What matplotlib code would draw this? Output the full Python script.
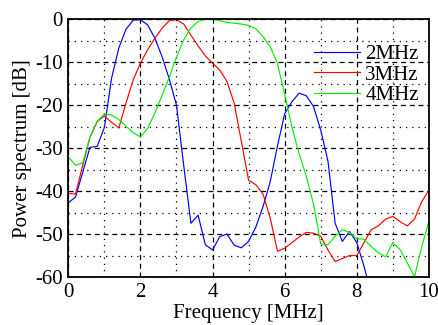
import numpy as np
import matplotlib
matplotlib.use("Agg")
import matplotlib.pyplot as plt
from matplotlib.ticker import MultipleLocator

plt.rcParams['font.family'] = ['Liberation Serif', 'DejaVu Serif']
plt.rcParams['axes.unicode_minus'] = False

freq = [0.0, 0.2, 0.4, 0.6, 0.8, 1.0, 1.2, 1.4, 1.6, 1.8,
        2.0, 2.2, 2.4, 2.6, 2.8, 3.0, 3.2, 3.4, 3.6, 3.8,
        4.0, 4.2, 4.4, 4.6, 4.8, 5.0, 5.2, 5.4, 5.6, 5.8,
        6.0, 6.2, 6.4, 6.6, 6.8, 7.0, 7.2, 7.4, 7.6, 7.8,
        8.0, 8.2, 8.4, 8.6, 8.8, 9.0, 9.2, 9.4, 9.6, 9.8, 10.0]

nan = np.nan
p2mhz = [-42.7, -41.4, -35.6, -29.8, -29.6, -25.2, -13.7, -6.7, -2.3, -0.2,
         -0.1, -1.3, -4.4, -8.7, -13.9, -20.0, -34.0, -47.5, -45.6, -52.5,
         -53.7, -50.6, -50.0, -52.6, -53.2, -51.7, -48.4, -43.6, -37.8, -29.5,
         -22.0, -19.2, -17.2, -17.8, -20.3, -25.8, -33.0, -47.5, -51.7, -49.4,
         -52.0, -57.5, -64.0, nan, nan, nan, nan, nan, nan, nan, nan]

p3mhz = [-40.5, -40.7, -34.0, -27.5, -23.8, -22.5, -24.0, -25.3, -19.5, -14.1,
         -10.2, -7.1, -4.4, -2.1, -0.3, -0.1, -1.1, -3.7, -6.2, -8.5,
         -10.2, -11.8, -14.5, -19.5, -28.5, -37.5, -38.5, -40.7, -46.3, -54.0,
         -53.3, -52.0, -50.7, -49.6, -49.8, -50.5, -53.7, -56.4, -55.7, -55.0,
         -55.0, -52.0, -49.0, -48.1, -46.5, -45.9, -47.1, -48.1, -46.5, -42.5, -39.8]

p4mhz = [-32.0, -34.0, -33.4, -27.5, -23.8, -22.0, -22.3, -23.3, -24.9, -26.4,
         -27.4, -25.4, -21.9, -17.7, -13.5, -8.8, -4.8, -2.0, -0.5, 0.0,
         0.0, -0.3, -0.7, -0.9, -1.1, -1.4, -2.2, -4.0, -6.4, -10.3,
         -17.5, -25.0, -31.3, -36.5, -43.0, -52.3, -52.5, -50.5, -49.0, -49.6,
         -51.1, -51.2, -52.9, -54.4, -55.3, -52.0, -53.6, -56.7, -59.9, -53.0, -47.0]

labels = ['2MHz', '3MHz', '4MHz']
colors = ['#0000ff', '#ff0000', '#00f000']
xticks = [0, 2, 4, 6, 8, 10]
yticks = [0, -10, -20, -30, -40, -50, -60]

fig = plt.figure(figsize=(4.39, 3.25), dpi=100)
ax = fig.add_axes([0.1556, 0.1477, 0.8214, 0.7929])

for y, lab, c in zip([p2mhz, p3mhz, p4mhz], labels, colors):
    ax.plot(freq, y, color=c, lw=0.85, label=lab)

ax.set_xlim(0, 10)
ax.set_ylim(-60, 0)
ax.set_xticks(xticks)
ax.set_yticks(yticks)
ax.set_yticklabels([str(v) for v in yticks])
ax.xaxis.set_minor_locator(MultipleLocator(1))
ax.yaxis.set_minor_locator(MultipleLocator(5))
ax.grid(which='major', color='k', linestyle=(0, (4, 3)), lw=0.9)
ax.grid(which='minor', color='k', linestyle=(0, (1, 4)), lw=0.9)
ax.tick_params(which='both', length=0, labelsize=15, pad=4)
for s in ax.spines.values():
    s.set_linewidth(1.3)

ax.set_xlabel('Frequency [MHz]', fontsize=15, labelpad=2)
ax.set_ylabel('Power spectrum [dB]', fontsize=15, labelpad=2)

leg = ax.legend(loc='upper right', bbox_to_anchor=(0.995, 0.935), frameon=False,
                fontsize=15, handlelength=2.2, handletextpad=0.25,
                labelspacing=0.05, borderaxespad=0.0)

fig.savefig('out.png', dpi=100)
